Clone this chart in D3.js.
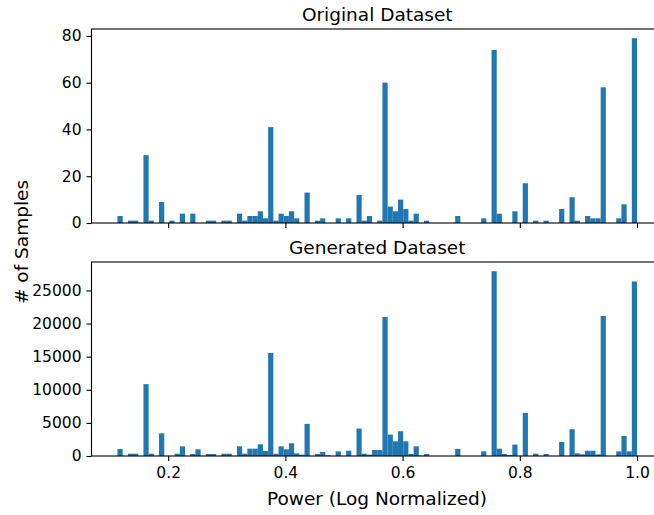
<!DOCTYPE html>
<html>
<head>
<meta charset="utf-8">
<script src="https://cdn.jsdelivr.net/npm/d3@7"></script>
<style>
  body { margin: 0; background: #fff; }
  svg { display: block; font-family: "DejaVu Sans", sans-serif; }
</style>
</head>
<body>
<svg id="chart"></svg>
<script>
// histogram bins: 100 equal bins between binLo and binHi
const binLo = 0.1135;
const binHi = 1.0;

const originalCounts = [
  3, 0, 1, 1, 0, 29, 1, 0, 9, 0,
  1, 0, 4, 0, 4, 0, 0, 1, 1, 0,
  1, 1, 0, 4, 1, 3, 3, 5, 2, 41,
  1, 4, 3, 5, 2, 0, 13, 0, 1, 2,
  0, 0, 2, 0, 2, 0, 12, 1, 3, 0,
  1, 60, 7, 5, 10, 6, 1, 4, 0, 1,
  0, 0, 0, 0, 0, 3, 0, 0, 0, 0,
  2, 0, 74, 4, 0, 0, 5, 0, 17, 0,
  1, 0, 1, 0, 0, 6, 0, 11, 1, 0,
  3, 2, 2, 58, 0, 0, 2, 8, 0, 79
];

const generatedCounts = [
  1060, 0, 350, 350, 0, 10850, 350, 0, 3430, 0,
  0, 350, 1460, 0, 300, 1010, 0, 300, 300, 0,
  350, 350, 0, 1460, 350, 1110, 1110, 1770, 760, 15550,
  350, 1460, 1010, 1920, 400, 200, 4850, 0, 300, 600,
  100, 0, 700, 0, 800, 0, 4140, 350, 200, 900,
  900, 21000, 3230, 2220, 3740, 2220, 300, 1460, 50, 300,
  0, 0, 0, 0, 0, 1060, 0, 0, 0, 0,
  700, 0, 27900, 1110, 300, 150, 1720, 0, 6500, 0,
  350, 0, 300, 0, 0, 2120, 0, 4040, 400, 250,
  800, 800, 250, 21150, 0, 0, 700, 3030, 700, 26350
];

const xTicks = [0.2, 0.4, 0.6, 0.8, 1.0];
const originalTicks = [0, 20, 40, 60, 80];
const generatedTicks = [0, 5000, 10000, 15000, 20000, 25000];

const width = 654;
const height = 515;
const color = "#1f77b4";

const svg = d3.select("#chart")
  .attr("width", width)
  .attr("height", height);

svg.append("rect").attr("width", width).attr("height", height).attr("fill", "#fff");

const nBins = originalCounts.length;
const binW = (binHi - binLo) / nBins;
const pad = 0.05 * (binHi - binLo);

const x = d3.scaleLinear()
  .domain([binLo - pad, binHi + pad])
  .range([91.5, 663]);

function panel(counts, ticks, top, bottom, title, showXLabels) {
  const y = d3.scaleLinear()
    .domain([0, d3.max(counts) * 1.05])
    .range([bottom, top]);

  const g = svg.append("g");

  g.append("g")
    .selectAll("rect")
    .data(counts)
    .join("rect")
    .attr("x", (d, i) => x(binLo + i * binW))
    .attr("width", (d, i) => x(binLo + (i + 1) * binW) - x(binLo + i * binW))
    .attr("y", d => y(d))
    .attr("height", d => y(0) - y(d))
    .attr("fill", color);

  // frame
  g.append("rect")
    .attr("x", x.range()[0])
    .attr("y", top)
    .attr("width", x.range()[1] - x.range()[0])
    .attr("height", bottom - top)
    .attr("fill", "none")
    .attr("stroke", "#000")
    .attr("stroke-width", 1.1);

  const yAxis = d3.axisLeft(y)
    .tickValues(ticks)
    .tickSize(5)
    .tickPadding(5)
    .tickFormat(d3.format("d"));
  const ya = g.append("g")
    .attr("transform", `translate(${x.range()[0]},0)`)
    .call(yAxis);
  ya.select(".domain").remove();
  ya.selectAll("text").attr("font-size", 15.5).attr("fill", "#000").attr("font-family", "DejaVu Sans");
  ya.selectAll("line").attr("stroke-width", 1.1);

  const xAxis = d3.axisBottom(x)
    .tickValues(xTicks)
    .tickSize(5)
    .tickPadding(6)
    .tickFormat(showXLabels ? d3.format(".1f") : () => "");
  const xa = g.append("g")
    .attr("transform", `translate(0,${bottom})`)
    .call(xAxis);
  xa.select(".domain").remove();
  xa.selectAll("text").attr("font-size", 15.5).attr("fill", "#000").attr("font-family", "DejaVu Sans");
  xa.selectAll("line").attr("stroke-width", 1.1);

  g.append("text")
    .attr("x", (x.range()[0] + x.range()[1]) / 2)
    .attr("y", top - 8)
    .attr("text-anchor", "middle")
    .attr("font-size", 18.5)
    .text(title);
}

panel(originalCounts, originalTicks, 29, 223, "Original Dataset", false);
panel(generatedCounts, generatedTicks, 262, 456, "Generated Dataset", true);

svg.append("text")
  .attr("x", 377)
  .attr("y", 505)
  .attr("text-anchor", "middle")
  .attr("font-size", 18.5)
  .text("Power (Log Normalized)");

svg.append("text")
  .attr("transform", "translate(28,242) rotate(-90)")
  .attr("text-anchor", "middle")
  .attr("font-size", 18.5)
  .text("# of Samples");
</script>
</body>
</html>
